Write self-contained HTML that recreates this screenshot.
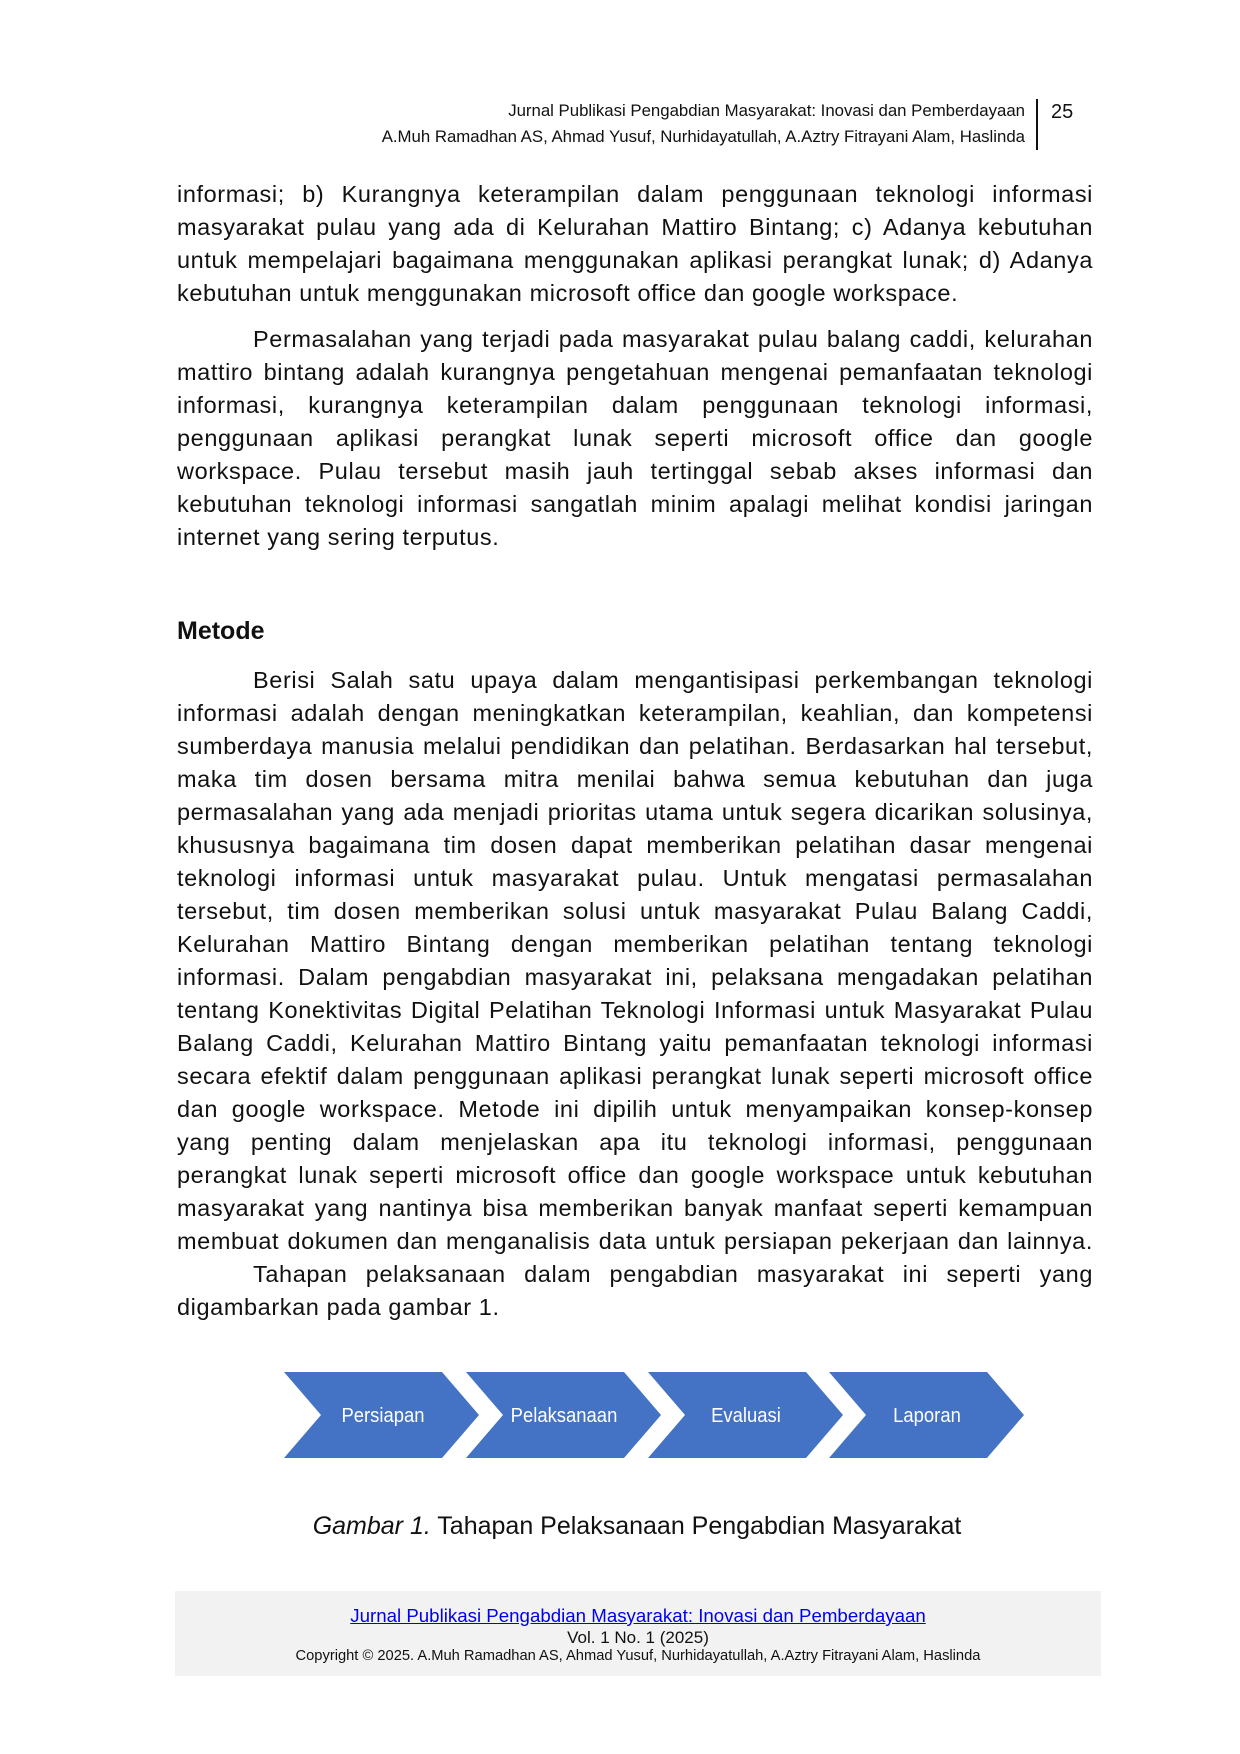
<!DOCTYPE html>
<html><head><meta charset="utf-8">
<style>
body{margin:0;background:#fff;}
#pg{position:relative;width:1240px;height:1754px;background:#fff;overflow:hidden;font-family:"Liberation Sans",sans-serif;color:#111;}
.blk{position:absolute;left:177px;width:916px;font-size:23.5px;letter-spacing:0.6px;}
.l{height:33px;line-height:33px;white-space:nowrap;text-align:justify;text-align-last:justify;}
.e{text-align:left;text-align-last:left;}
.ind{padding-left:76px;}
.hd{position:absolute;right:215px;font-size:16.8px;white-space:nowrap;}
</style></head><body><div id="pg">
<div class="hd" style="top:101px;">Jurnal Publikasi Pengabdian Masyarakat: Inovasi dan Pemberdayaan</div>
<div class="hd" style="top:127px;">A.Muh Ramadhan AS, Ahmad Yusuf, Nurhidayatullah, A.Aztry Fitrayani Alam, Haslinda</div>
<div style="position:absolute;left:1036px;top:99px;width:2px;height:51px;background:#111"></div>
<div style="position:absolute;left:1051px;top:101px;font-size:20px;">25</div>

<div class="blk" style="top:178px;">
<div class="l">informasi; b) Kurangnya keterampilan dalam penggunaan teknologi informasi</div>
<div class="l">masyarakat pulau yang ada di Kelurahan Mattiro Bintang; c) Adanya kebutuhan</div>
<div class="l">untuk mempelajari bagaimana menggunakan aplikasi perangkat lunak; d) Adanya</div>
<div class="l e">kebutuhan untuk menggunakan microsoft office dan google workspace.</div>
</div>

<div class="blk" style="top:323px;">
<div class="l ind">Permasalahan yang terjadi pada masyarakat pulau balang caddi, kelurahan</div>
<div class="l">mattiro bintang adalah kurangnya pengetahuan mengenai pemanfaatan teknologi</div>
<div class="l">informasi, kurangnya keterampilan dalam penggunaan teknologi informasi,</div>
<div class="l">penggunaan aplikasi perangkat lunak seperti microsoft office dan google</div>
<div class="l">workspace. Pulau tersebut masih jauh tertinggal sebab akses informasi dan</div>
<div class="l">kebutuhan teknologi informasi sangatlah minim apalagi melihat kondisi jaringan</div>
<div class="l e">internet yang sering terputus.</div>
</div>

<div style="position:absolute;left:177px;top:617px;font-size:25px;font-weight:bold;">Metode</div>

<div class="blk" style="top:664px;">
<div class="l ind">Berisi Salah satu upaya dalam mengantisipasi perkembangan teknologi</div>
<div class="l">informasi adalah dengan meningkatkan keterampilan, keahlian, dan kompetensi</div>
<div class="l">sumberdaya manusia melalui pendidikan dan pelatihan. Berdasarkan hal tersebut,</div>
<div class="l">maka tim dosen bersama mitra menilai bahwa semua kebutuhan dan juga</div>
<div class="l">permasalahan yang ada menjadi prioritas utama untuk segera dicarikan solusinya,</div>
<div class="l">khususnya bagaimana tim dosen dapat memberikan pelatihan dasar mengenai</div>
<div class="l">teknologi informasi untuk masyarakat pulau. Untuk mengatasi permasalahan</div>
<div class="l">tersebut, tim dosen memberikan solusi untuk masyarakat Pulau Balang Caddi,</div>
<div class="l">Kelurahan Mattiro Bintang dengan memberikan pelatihan tentang teknologi</div>
<div class="l">informasi. Dalam pengabdian masyarakat ini, pelaksana mengadakan pelatihan</div>
<div class="l">tentang Konektivitas Digital Pelatihan Teknologi Informasi untuk Masyarakat Pulau</div>
<div class="l">Balang Caddi, Kelurahan Mattiro Bintang yaitu pemanfaatan teknologi informasi</div>
<div class="l">secara efektif dalam penggunaan aplikasi perangkat lunak seperti microsoft office</div>
<div class="l">dan google workspace. Metode ini dipilih untuk menyampaikan konsep-konsep</div>
<div class="l">yang penting dalam menjelaskan apa itu teknologi informasi, penggunaan</div>
<div class="l">perangkat lunak seperti microsoft office dan google workspace untuk kebutuhan</div>
<div class="l">masyarakat yang nantinya bisa memberikan banyak manfaat seperti kemampuan</div>
<div class="l">membuat dokumen dan menganalisis data untuk persiapan pekerjaan dan lainnya.</div>
<div class="l ind">Tahapan pelaksanaan dalam pengabdian masyarakat ini seperti yang</div>
<div class="l e">digambarkan pada gambar 1.</div>
</div>

<svg style="position:absolute;left:0;top:0" width="1240" height="1754">
<g fill="#4472c4">
<polygon points="284,1372 442,1372 479,1415 442,1458 284,1458 321,1415"/>
<polygon points="466,1372 624,1372 661,1415 624,1458 466,1458 503,1415"/>
<polygon points="648,1372 806,1372 843,1415 806,1458 648,1458 685,1415"/>
<polygon points="829,1372 987,1372 1024,1415 987,1458 829,1458 866,1415"/>
</g>
<g fill="#fff" font-family="Liberation Sans, sans-serif" font-size="20.5" text-anchor="middle">
<text x="383" y="1422" transform="translate(383,0) scale(0.9,1) translate(-383,0)">Persiapan</text>
<text x="564" y="1422" transform="translate(564,0) scale(0.9,1) translate(-564,0)">Pelaksanaan</text>
<text x="746" y="1422" transform="translate(746,0) scale(0.9,1) translate(-746,0)">Evaluasi</text>
<text x="927" y="1422" transform="translate(927,0) scale(0.9,1) translate(-927,0)">Laporan</text>
</g>
</svg>

<div style="position:absolute;left:0;width:1274px;top:1512px;text-align:center;font-size:25px;"><i>Gambar 1.</i> Tahapan Pelaksanaan Pengabdian Masyarakat</div>

<div style="position:absolute;left:175px;top:1591px;width:926px;height:85px;background:#f2f2f2;text-align:center;">
<div style="position:absolute;left:0;right:0;top:14px;font-size:18.7px;color:#0000ee;text-decoration:underline;">Jurnal Publikasi Pengabdian Masyarakat: Inovasi dan Pemberdayaan</div>
<div style="position:absolute;left:0;right:0;top:37px;font-size:17px;">Vol. 1 No. 1 (2025)</div>
<div style="position:absolute;left:0;right:0;top:57px;font-size:14.7px;">Copyright © 2025. A.Muh Ramadhan AS, Ahmad Yusuf, Nurhidayatullah, A.Aztry Fitrayani Alam, Haslinda</div>
</div>
</div></body></html>
